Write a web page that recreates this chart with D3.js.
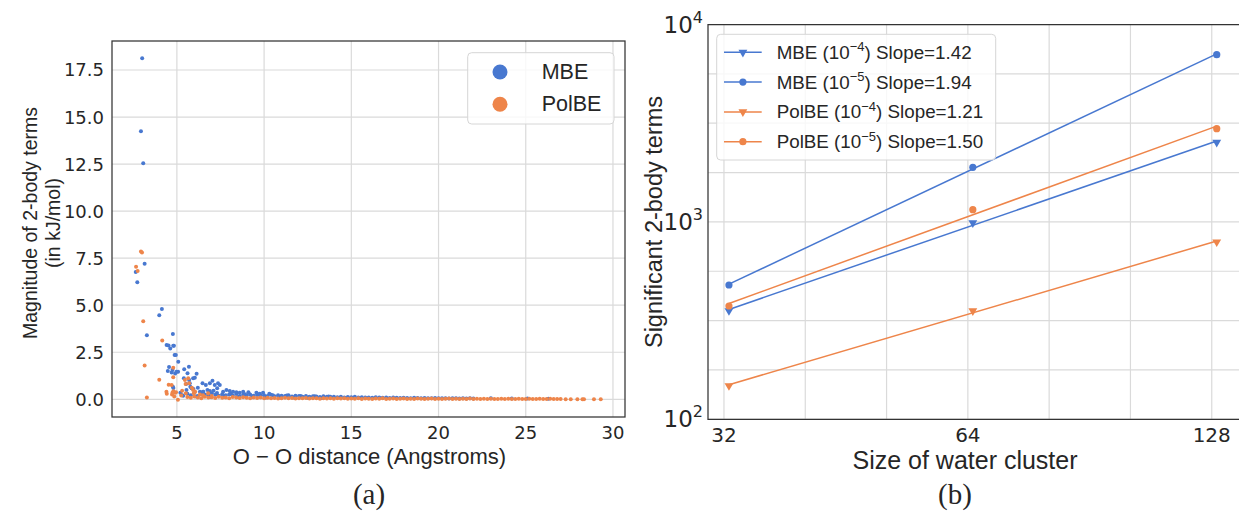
<!DOCTYPE html>
<html>
<head>
<meta charset="utf-8">
<script src="https://cdn.jsdelivr.net/npm/d3@7"></script>
<style>
  html, body { margin: 0; padding: 0; background: #fff; }
  svg { display: block; }
  text { font-family: "Liberation Sans", Arial, sans-serif; fill: #262626; }
  text.num { font-family: "DejaVu Sans", sans-serif; }
</style>
</head>
<body>
<svg id="chart" width="1239" height="512"></svg>
<script>
// ---------------- DATA ----------------
// Panel (a): individually readable points
const mbeDist = [3.01,2.94,3.07,2.64,2.73,3.15,3.28,3.99,4.14,4.77,4.41,4.52,4.62,4.79,4.83,4.87,4.94,5.08,4.55,4.48,4.70,4.90,4.75,4.98,4.80,4.77,5.42,5.69,5.61,6.13,5.93,6.03,5.74,5.84,5.55,5.36,6.47,6.66,6.89,7.04,7.17,7.36,7.46,7.31,6.32,6.51,6.89,7.65,7.84,8.03,8.22,8.41,8.60,8.80,9.10,9.56,9.75,9.94,10.3,5.40,5.53,5.70,5.77,5.27,5.07,5.20,5.95,6.20,6.75,7.10,23.0,24.2,25.1,26.3];
const mbeMag  = [18.12,14.24,12.54,6.76,6.22,7.21,3.40,4.47,4.80,3.47,2.89,2.86,2.70,2.85,2.85,2.36,2.36,2.00,1.72,1.50,1.42,1.37,1.56,1.47,0.60,0.67,1.60,1.73,1.38,1.36,1.12,1.15,0.85,0.59,0.49,0.19,0.85,0.76,0.85,0.99,0.76,0.85,0.76,0.59,0.40,0.40,0.44,0.40,0.49,0.44,0.40,0.38,0.35,0.40,0.38,0.35,0.30,0.35,0.29,1.12,0.81,1.03,0.67,0.23,1.47,0.35,0.55,0.62,0.50,0.45,0.05,0.04,0.04,0.03];
const polDist = [2.66,2.75,2.94,3.00,3.07,3.15,3.28,4.16,3.99,4.53,4.40,4.79,4.80,4.70,4.79,4.72,4.85,4.95,5.06,5.46,5.50,5.65,5.51,5.93,5.97,6.79,5.70,5.86,6.05,6.32,4.42,4.75,4.90,5.30,5.25,6.50,7.00,27.29,27.58,27.96,28.25,28.34,28.91,29.30];
const polMag  = [7.04,6.82,7.85,7.80,4.15,1.79,0.10,3.12,1.04,0.78,0.40,1.68,0.43,0.76,1.17,0.25,0.15,0.38,-0.03,1.03,0.81,1.12,0.32,0.49,0.32,0.32,0.85,0.62,0.40,0.25,0.29,0.36,0.35,0.45,0.20,0.22,0.18,0.0,0.0,0.0,0.0,0.0,0.0,0.0];
// Panel (a): dense near-zero band read along the distance axis
const mbeBandDist = [5.6,5.8,6.0,6.2,6.4,6.6,6.8,7.0,7.2,7.4,7.6,7.8,8.0,8.2,8.4,8.6,8.8,9.0,9.2,9.4,9.6,9.8,10.0,10.2,10.4,10.6,10.8,11.0,11.2,11.4,11.6,11.8,12.0,12.2,12.4,12.6,12.8,13.0,13.2,13.4,13.6,13.8,14.0,14.2,14.4,14.6,14.8,15.0,15.2,15.4,15.6,15.8,16.0,16.2,16.4,16.6,16.8,17.0,17.2,17.4,17.6,17.8,18.0,18.2,18.4,18.6,18.8,19.0,19.2,19.4,19.6,19.8,20.0,20.2,20.4,20.6,20.8,21.0,21.2,21.4,21.6,21.8,22.0];
const mbeBandMag  = [0.30,0.22,0.35,0.18,0.28,0.25,0.20,0.32,0.24,0.19,0.27,0.22,0.25,0.20,0.28,0.18,0.24,0.21,0.26,0.19,0.23,0.20,0.22,0.18,0.24,0.16,0.21,0.19,0.17,0.22,0.15,0.19,0.17,0.14,0.18,0.13,0.16,0.15,0.12,0.16,0.13,0.14,0.13,0.11,0.14,0.10,0.12,0.11,0.13,0.09,0.11,0.10,0.10,0.08,0.11,0.09,0.08,0.10,0.07,0.09,0.08,0.07,0.08,0.07,0.06,0.08,0.07,0.06,0.07,0.05,0.06,0.07,0.06,0.05,0.06,0.04,0.05,0.06,0.04,0.05,0.04,0.05,0.04];
const mbeBand2Dist = [6.1,6.5,6.9,7.3,7.7,8.1,8.5,8.9,9.3,9.7,10.1,10.5,10.9,11.3,11.7,12.1,12.5,12.9,13.3,13.7];
const mbeBand2Mag  = [0.15,0.40,0.12,0.33,0.14,0.30,0.12,0.27,0.11,0.25,0.10,0.22,0.09,0.20,0.09,0.18,0.08,0.16,0.07,0.15];
const polBandDist = [5.6,5.8,6.0,6.2,6.4,6.6,6.8,7.0,7.2,7.4,7.6,7.8,8.0,8.2,8.4,8.6,8.8,9.0,9.2,9.4,9.6,9.8,10.0,10.2,10.4,10.6,10.8,11.0,11.2,11.4,11.6,11.8,12.0,12.2,12.4,12.6,12.8,13.0,13.2,13.4,13.6,13.8,14.0,14.2,14.4,14.6,14.8,15.0,15.2,15.4,15.6,15.8,16.0,16.2,16.4,16.6,16.8,17.0,17.2,17.4,17.6,17.8,18.0,18.2,18.4,18.6,18.8,19.0,19.2,19.4,19.6,19.8,20.0,20.2,20.4,20.6,20.8,21.0,21.2,21.4,21.6,21.8,22.0,22.2,22.4,22.6,22.8,23.0,23.2,23.4,23.6,23.8,24.0,24.2,24.4,24.6,24.8,25.0,25.2,25.4,25.6,25.8,26.0,26.2,26.4,26.6,26.8,27.0];
const polBandMag  = [0.12,0.08,0.15,0.10,0.06,0.13,0.09,0.11,0.07,0.14,0.08,0.10,0.06,0.12,0.09,0.07,0.11,0.08,0.06,0.10,0.07,0.09,0.06,0.08,0.05,0.07,0.04,0.06,0.08,0.05,0.07,0.04,0.06,0.05,0.07,0.04,0.06,0.05,0.03,0.06,0.04,0.05,0.03,0.06,0.04,0.05,0.03,0.04,0.03,0.05,0.02,0.04,0.03,0.02,0.04,0.03,0.05,0.02,0.03,0.04,0.02,0.03,0.04,0.02,0.03,0.02,0.04,0.03,0.02,0.03,0.04,0.02,0.03,0.02,0.03,0.04,0.02,0.03,0.02,0.03,0.02,0.04,0.02,0.03,0.02,0.03,0.02,0.03,0.02,0.02,0.03,0.02,0.03,0.02,0.02,0.03,0.02,0.02,0.03,0.02,0.02,0.03,0.02,0.02,0.03,0.02,0.02,0.02];
const xTicksA = [5,10,15,20,25,30];
const yTicksA = [0,2.5,5,7.5,10,12.5,15,17.5];
const seriesA = ["MBE","PolBE"];

// Panel (b)
const clusterSizes = [32,64,128];
const mbe4  = [355,990,2530];
const mbe5  = [479,1890,7030];
const pol4  = [148,354,791];
const pol5  = [375,1153,2965];
const slopeLabels = ["1.42","1.94","1.21","1.50"];
const thresholdExp = ["\u22124","\u22125","\u22124","\u22125"];
const xTickLabelsB = ["32","64","128"];
const xTickPosB = [31.55,63.1,126.2];
const yTickExpB = [2,3,4];

// ---------------- STYLE ----------------
const BLUE = "#4878d0", ORANGE = "#ee854a", GRID = "#dadada", SPINE = "#333333";
const svg = d3.select("#chart");

// ================= PANEL (a) =================
const A = {x0:112, x1:625, y0:41, y1:417};
const xA = d3.scaleLinear().domain([1.28, 30.69]).range([A.x0, A.x1]);
const yA = d3.scaleLinear().domain([-0.94, 19.04]).range([A.y1, A.y0]);
const gA = svg.append("g");

gA.selectAll("line.gx").data(xTicksA).join("line")
  .attr("x1", d=>xA(d)).attr("x2", d=>xA(d)).attr("y1", A.y0).attr("y2", A.y1)
  .attr("stroke", GRID).attr("stroke-width", 1.2);
gA.selectAll("line.gy").data(yTicksA).join("line")
  .attr("y1", d=>yA(d)).attr("y2", d=>yA(d)).attr("x1", A.x0).attr("x2", A.x1)
  .attr("stroke", GRID).attr("stroke-width", 1.2);

svg.append("clipPath").attr("id","clipA").append("rect")
  .attr("x", A.x0).attr("y", A.y0).attr("width", A.x1-A.x0).attr("height", A.y1-A.y0);
const ptsA = gA.append("g").attr("clip-path","url(#clipA)");
function zipPts(xs, ys){ return xs.map((x,i)=>[x, ys[i]]); }
const mbeAll = zipPts(mbeBandDist, mbeBandMag).concat(zipPts(mbeBand2Dist, mbeBand2Mag), zipPts(mbeDist, mbeMag));
const polAll = zipPts(polBandDist, polBandMag).concat(zipPts(polDist, polMag));
ptsA.selectAll("circle.m").data(mbeAll).join("circle")
  .attr("cx", d=>xA(d[0])).attr("cy", d=>yA(d[1])).attr("r", 2).attr("fill", BLUE);
ptsA.selectAll("circle.p").data(polAll).join("circle")
  .attr("cx", d=>xA(d[0])).attr("cy", d=>yA(d[1])).attr("r", 2).attr("fill", ORANGE);

gA.append("rect").attr("x", A.x0).attr("y", A.y0).attr("width", A.x1-A.x0).attr("height", A.y1-A.y0)
  .attr("fill","none").attr("stroke", SPINE).attr("stroke-width", 1.25);

gA.selectAll("text.xt").data(xTicksA).join("text").attr("class","num")
  .attr("x", d=>xA(d)).attr("y", A.y1+15).attr("text-anchor","middle").attr("dominant-baseline","central")
  .style("font-size","18px").text(d=>d);
gA.selectAll("text.yt").data(yTicksA).join("text").attr("class","num")
  .attr("x", A.x0-8).attr("y", d=>yA(d)).attr("text-anchor","end").attr("dominant-baseline","central")
  .style("font-size","18px").text(d=>d3.format(".1f")(d));

gA.append("text").attr("x", (A.x0+A.x1)/2 + 1).attr("y", 456).attr("text-anchor","middle")
  .attr("dominant-baseline","central").style("font-size","22px")
  .text("O \u2212 O distance (Angstroms)");
gA.append("text").attr("transform","translate(30,223) rotate(-90)").attr("text-anchor","middle")
  .attr("dominant-baseline","central").style("font-size","19.5px").text("Magnitude of 2-body terms");
gA.append("text").attr("transform","translate(53,223) rotate(-90)").attr("text-anchor","middle")
  .attr("dominant-baseline","central").style("font-size","19.5px").text("(in kJ/mol)");

// legend (a)
const legA = gA.append("g");
legA.append("rect").attr("x", 467.7).attr("y", 52.7).attr("width", 146.3).attr("height", 71.3)
  .attr("rx", 4).attr("fill","#fff").attr("fill-opacity",0.8).attr("stroke","#d6d6d6");
const legAColors = [BLUE, ORANGE];
legA.selectAll("circle").data(seriesA).join("circle")
  .attr("cx", 500).attr("cy", (d,i)=>72+i*32.3).attr("r", 7.5).attr("fill", (d,i)=>legAColors[i]);
legA.selectAll("text").data(seriesA).join("text")
  .attr("x", 541.7).attr("y", (d,i)=>72+i*32.3).attr("dominant-baseline","central")
  .style("font-size","21.5px").text(d=>d);

// ================= PANEL (b) =================
const B = {x0:708, x1:1247, y0:24.5, y1:419.3};
const xB = d3.scaleLog().base(2).domain([30.15, 139.5]).range([B.x0, B.x1]);
const yB = d3.scaleLog().domain([100, 10000]).range([B.y1, B.y0]);
const gB = svg.append("g");

const xGridB = [];
for (let k = 0; k <= 7; k++) xGridB.push(xTickPosB[0] * Math.pow(2, k/3));
const yGridB = [];
for (let k = 0; k <= 8; k++) yGridB.push(Math.pow(10, 2 + k/4));
gB.selectAll("line.gx").data(xGridB.filter(v=>xB(v) < 1239)).join("line")
  .attr("x1", d=>xB(d)).attr("x2", d=>xB(d)).attr("y1", B.y0).attr("y2", B.y1)
  .attr("stroke", GRID).attr("stroke-width", 1.2);
gB.selectAll("line.gy").data(yGridB).join("line")
  .attr("y1", d=>yB(d)).attr("y2", d=>yB(d)).attr("x1", B.x0).attr("x2", B.x1)
  .attr("stroke", GRID).attr("stroke-width", 1.2);

const seriesB = [
  {vals: mbe4, color: BLUE,   marker: "tri"},
  {vals: mbe5, color: BLUE,   marker: "circ"},
  {vals: pol4, color: ORANGE, marker: "tri"},
  {vals: pol5, color: ORANGE, marker: "circ"}
];
function fit(xs, ys){
  const lx = xs.map(Math.log10), ly = ys.map(Math.log10);
  const mx = d3.mean(lx), my = d3.mean(ly);
  const b = d3.sum(lx.map((v,i)=>(v-mx)*(ly[i]-my))) / d3.sum(lx.map(v=>(v-mx)*(v-mx)));
  return x => Math.pow(10, my + b*(Math.log10(x)-mx));
}
const triPath = d3.symbol().type(d3.symbolTriangle).size(34)();
function drawMarker(g, type, x, y, color){
  if (type === "circ") g.append("circle").attr("cx", x).attr("cy", y).attr("r", 3.6).attr("fill", color);
  else g.append("path").attr("d", triPath).attr("transform", `translate(${x},${y}) rotate(180)`).attr("fill", color);
}
seriesB.forEach(s=>{
  const f = fit(clusterSizes, s.vals);
  gB.append("line")
    .attr("x1", xB(clusterSizes[0])).attr("y1", yB(f(clusterSizes[0])))
    .attr("x2", xB(clusterSizes[2])).attr("y2", yB(f(clusterSizes[2])))
    .attr("stroke", s.color).attr("stroke-width", 1.5);
  clusterSizes.forEach((c,i)=> drawMarker(gB, s.marker, xB(c), yB(s.vals[i]), s.color));
});

// spines (right spine falls outside the picture)
gB.append("path").attr("d", `M${B.x1},${B.y0}H${B.x0}V${B.y1}H${B.x1}`)
  .attr("fill","none").attr("stroke", SPINE).attr("stroke-width", 1.25);

gB.selectAll("text.xt").data(xTickPosB).join("text").attr("class","num")
  .attr("x", d=>xB(d)).attr("y", B.y1+16).attr("text-anchor","middle").attr("dominant-baseline","central")
  .style("font-size","20px").text((d,i)=>xTickLabelsB[i]);
const yt = gB.selectAll("text.yt").data(yTickExpB).join("text").attr("class","num")
  .attr("x", B.x0-5).attr("y", d=>yB(Math.pow(10,d))+8).attr("text-anchor","end")
  .style("font-size","23px");
yt.append("tspan").text("10");
yt.append("tspan").attr("dy", -10).style("font-size","16px").text(d=>d);

gB.append("text").attr("x", 965).attr("y", 460).attr("text-anchor","middle")
  .attr("dominant-baseline","central").style("font-size","25px").text("Size of water cluster");
gB.append("text").attr("transform","translate(654,222) rotate(-90)").attr("text-anchor","middle")
  .attr("dominant-baseline","central").style("font-size","23.5px").text("Significant 2-body terms");

// legend (b)
const legB = gB.append("g");
legB.append("rect").attr("x", 716.7).attr("y", 34.3).attr("width", 279).attr("height", 125.7)
  .attr("rx", 4).attr("fill","#fff").attr("fill-opacity",0.8).attr("stroke","#d6d6d6");
const namesB = ["MBE","MBE","PolBE","PolBE"];
seriesB.forEach((s,i)=>{
  const cy = 52.3 + i*29.8;
  legB.append("line").attr("x1", 724).attr("x2", 761.7).attr("y1", cy).attr("y2", cy)
    .attr("stroke", s.color).attr("stroke-width", 1.5);
  drawMarker(legB, s.marker, 742.9, cy, s.color);
  const t = legB.append("text").attr("x", 776.7).attr("y", cy+6.5).style("font-size","18.8px");
  t.append("tspan").text(namesB[i] + " (10");
  t.append("tspan").attr("dy", -7.5).style("font-size","13px").text(thresholdExp[i]);
  t.append("tspan").attr("dy", 7.5).text(") Slope=" + slopeLabels[i]);
});

// captions
svg.append("text").attr("x", 369).attr("y", 494).attr("text-anchor","middle").attr("dominant-baseline","central")
  .style("font-family","'Liberation Serif', 'DejaVu Serif', serif").style("font-size","29px").text("(a)");
svg.append("text").attr("x", 955).attr("y", 494).attr("text-anchor","middle").attr("dominant-baseline","central")
  .style("font-family","'Liberation Serif', 'DejaVu Serif', serif").style("font-size","29px").text("(b)");
</script>
</body>
</html>
